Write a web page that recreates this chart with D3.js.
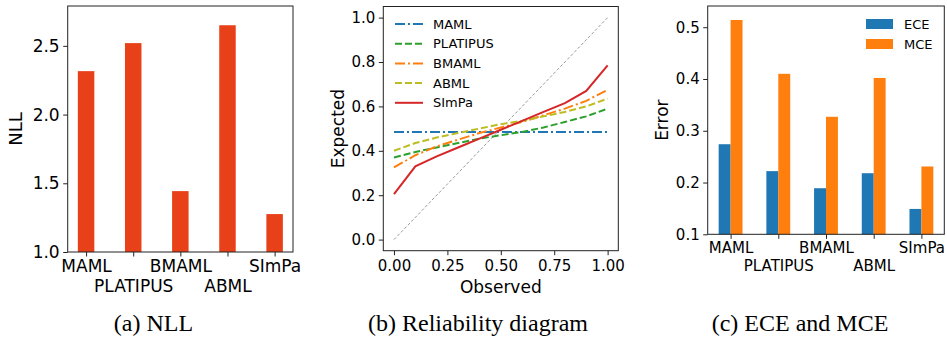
<!DOCTYPE html>
<html>
<head>
<meta charset="utf-8">
<script src="https://cdnjs.cloudflare.com/ajax/libs/d3/7.8.5/d3.min.js"></script>
<style>
  body { margin: 0; background: #fff; }
  svg text { font-family: "DejaVu Sans", sans-serif; fill: #000; }
  svg text.caption { font-family: "Liberation Serif", "Times New Roman", serif; }
</style>
</head>
<body>
<svg id="fig" width="947" height="350"></svg>
<script>
  // data
  var methods = ['MAML', 'PLATIPUS', 'BMAML', 'ABML', 'SImPa'];
  var nllValues = [2.316, 2.52, 1.443, 2.65, 1.276];
  var eceValues = [0.274, 0.222, 0.189, 0.218, 0.149];
  var mceValues = [0.514, 0.410, 0.327, 0.402, 0.231];

  var observed = [0.0, 0.1, 0.2, 0.3, 0.4, 0.5, 0.6, 0.7, 0.8, 0.9, 1.0];
  var expMAML = [0.485, 0.485, 0.485, 0.485, 0.485, 0.485, 0.485, 0.485, 0.485, 0.485, 0.485];
  var expPLATIPUS = [0.37, 0.395, 0.415, 0.435, 0.455, 0.47, 0.485, 0.505, 0.53, 0.555, 0.59];
  var expBMAML = [0.325, 0.38, 0.42, 0.45, 0.48, 0.505, 0.53, 0.56, 0.59, 0.625, 0.675];
  var expABML = [0.40, 0.435, 0.46, 0.48, 0.50, 0.52, 0.535, 0.555, 0.575, 0.60, 0.635];
  var expSImPa = [0.205, 0.33, 0.375, 0.415, 0.455, 0.495, 0.535, 0.575, 0.615, 0.67, 0.785];

  var nllTicks = [1.0, 1.5, 2.0, 2.5];
  var relXTicks = [0, 0.25, 0.5, 0.75, 1.0];
  var relYTicks = [0, 0.2, 0.4, 0.6, 0.8, 1.0];
  var errTicks = [0.1, 0.2, 0.3, 0.4, 0.5];
  var captions = ['(a) NLL', '(b) Reliability diagram', '(c) ECE and MCE'];

  var svg = d3.select('#fig');

  // frame around a plot area, matplotlib style
  function frame(g, w, h) {
    g.append('rect')
        .attr('x', 0).attr('y', 0)
        .attr('width', w).attr('height', h)
        .attr('fill', 'none')
        .attr('stroke', '#222')
        .attr('stroke-width', 1);
  }

  function styleAxis(sel, fontSize) {
    sel.select('.domain').remove();
    sel.selectAll('.tick line').attr('stroke', '#222');
    sel.selectAll('.tick text').style('font-size', fontSize + 'px').attr('fill', '#000');
  }

  // method names on two staggered rows
  function staggered(sel, fontSize) {
    sel.selectAll('.tick text')
        .attr('y', 8)
        .attr('dy', function (d, i) { return i % 2 ? (0.71 + 1.2) + 'em' : '0.71em'; });
  }

  // ---------- (a) NLL ----------
  (function () {
    var m = {left: 67.7, top: 6}, w = 225.3, h = 246;
    var g = svg.append('g').attr('transform', 'translate(' + m.left + ',' + m.top + ')');

    var x = d3.scaleLinear().domain([-0.39, 4.39]).range([0, w]);
    var y = d3.scaleLinear().domain([1.0, 2.79]).range([h, 0]);
    var bw = 0.35;

    g.selectAll('rect.bar')
        .data(nllValues)
        .enter().append('rect')
        .attr('class', 'bar')
        .attr('x', function (d, i) { return x(i - bw / 2); })
        .attr('width', x(bw) - x(0))
        .attr('y', function (d) { return y(d); })
        .attr('height', function (d) { return y(1.0) - y(d); })
        .attr('fill', '#e8411a');

    var ax = g.append('g')
        .attr('transform', 'translate(0,' + h + ')')
        .call(d3.axisBottom(x).tickValues(d3.range(methods.length))
          .tickFormat(function (d) { return methods[d]; }).tickSize(4.5));
    styleAxis(ax, 17);
    staggered(ax, 17);

    var ay = g.append('g')
        .call(d3.axisLeft(y).tickValues(nllTicks).tickFormat(d3.format('.1f')).tickSize(4.5).tickPadding(3.5));
    styleAxis(ay, 17);

    frame(g, w, h);

    g.append('text')
        .attr('transform', 'translate(' + (16 - m.left) + ',' + (h / 2) + ') rotate(-90)')
        .attr('dy', '0.36em')
        .style('text-anchor', 'middle')
        .style('font-size', '18px')
        .text('NLL');
  })();

  // ---------- (b) Reliability diagram ----------
  (function () {
    var m = {left: 383.3, top: 6.5}, w = 235, h = 244.2;
    var g = svg.append('g').attr('transform', 'translate(' + m.left + ',' + m.top + ')');

    var x = d3.scaleLinear().domain([-0.05, 1.05]).range([0, w]);
    var y = d3.scaleLinear().domain([-0.05, 1.05]).range([h, 0]);

    var series = [
      {name: 'MAML', values: expMAML, color: '#1f77b4', dash: '10,3,2,3'},
      {name: 'PLATIPUS', values: expPLATIPUS, color: '#2ca02c', dash: '7,3'},
      {name: 'BMAML', values: expBMAML, color: '#ff7f0e', dash: '10,3,2,3'},
      {name: 'ABML', values: expABML, color: '#bcbd22', dash: '7,3'},
      {name: 'SImPa', values: expSImPa, color: '#d62728', dash: null}
    ];

    var line = d3.line()
        .x(function (d) { return x(d[0]); })
        .y(function (d) { return y(d[1]); });

    // perfect calibration
    g.append('path')
        .datum([[0, 0], [1, 1]])
        .attr('d', line)
        .attr('fill', 'none')
        .attr('stroke', '#808080')
        .attr('stroke-width', 0.8)
        .attr('stroke-dasharray', '3,2');

    series.forEach(function (s) {
      g.append('path')
          .datum(observed.map(function (o, i) { return [o, s.values[i]]; }))
          .attr('d', line)
          .attr('fill', 'none')
          .attr('stroke', s.color)
          .attr('stroke-width', 2)
          .attr('stroke-dasharray', s.dash);
    });

    var ax = g.append('g')
        .attr('transform', 'translate(0,' + h + ')')
        .call(d3.axisBottom(x).tickValues(relXTicks).tickFormat(d3.format('.2f')).tickSize(4.5).tickPadding(5));
    styleAxis(ax, 15);

    var ay = g.append('g')
        .call(d3.axisLeft(y).tickValues(relYTicks).tickFormat(d3.format('.1f')).tickSize(4.5).tickPadding(3.5));
    styleAxis(ay, 15);

    frame(g, w, h);

    g.append('text')
        .attr('x', w / 2)
        .attr('y', 293 - m.top)
        .style('text-anchor', 'middle')
        .style('font-size', '17px')
        .text('Observed');

    g.append('text')
        .attr('transform', 'translate(' + (338.3 - m.left) + ',' + (h / 2) + ') rotate(-90)')
        .attr('dy', '0.36em')
        .style('text-anchor', 'middle')
        .style('font-size', '17px')
        .text('Expected');

    // legend
    var lg = g.append('g').attr('transform', 'translate(' + (395 - m.left) + ',' + (24 - m.top) + ')');
    series.forEach(function (s, i) {
      var row = lg.append('g').attr('transform', 'translate(0,' + (i * 19.7) + ')');
      row.append('line')
          .attr('x1', 0).attr('x2', 28)
          .attr('stroke', s.color)
          .attr('stroke-width', 2)
          .attr('stroke-dasharray', s.dash);
      row.append('text')
          .attr('x', 38)
          .attr('dy', '0.36em')
          .style('font-size', '13px')
          .text(s.name);
    });
  })();

  // ---------- (c) ECE and MCE ----------
  (function () {
    var m = {left: 707.7, top: 6}, w = 236.6, h = 228.3;
    var g = svg.append('g').attr('transform', 'translate(' + m.left + ',' + m.top + ')');

    var x = d3.scaleLinear().domain([-0.48, 4.48]).range([0, w]);
    var y = d3.scaleLinear().domain([0.1, 0.541]).range([h, 0]);
    var bw = 0.25;

    var groups = [
      {name: 'ECE', values: eceValues, color: '#1f77b4', off: -bw},
      {name: 'MCE', values: mceValues, color: '#ff7f0e', off: 0}
    ];

    groups.forEach(function (s) {
      g.selectAll('rect.' + s.name)
          .data(s.values)
          .enter().append('rect')
          .attr('class', s.name)
          .attr('x', function (d, i) { return x(i + s.off); })
          .attr('width', x(bw) - x(0))
          .attr('y', function (d) { return y(d); })
          .attr('height', function (d) { return y(0.1) - y(d); })
          .attr('fill', s.color);
    });

    var ax = g.append('g')
        .attr('transform', 'translate(0,' + h + ')')
        .call(d3.axisBottom(x).tickValues(d3.range(methods.length))
          .tickFormat(function (d) { return methods[d]; }).tickSize(4.5));
    styleAxis(ax, 15);
    staggered(ax, 15);

    var ay = g.append('g')
        .call(d3.axisLeft(y).tickValues(errTicks).tickFormat(d3.format('.1f')).tickSize(4.5).tickPadding(3.5));
    styleAxis(ay, 15);

    frame(g, w, h);

    g.append('text')
        .attr('transform', 'translate(' + (661.7 - m.left) + ',' + (h / 2) + ') rotate(-90)')
        .attr('dy', '0.36em')
        .style('text-anchor', 'middle')
        .style('font-size', '17px')
        .text('Error');

    var lg = g.append('g').attr('transform', 'translate(' + (866 - m.left) + ',' + (24 - m.top) + ')');
    groups.forEach(function (s, i) {
      lg.append('rect')
          .attr('x', 0).attr('y', i * 20 - 5)
          .attr('width', 27).attr('height', 10)
          .attr('fill', s.color);
      lg.append('text')
          .attr('x', 38).attr('y', i * 20)
          .attr('dy', '0.36em')
          .style('font-size', '13px')
          .text(s.name);
    });
  })();

  // captions under each panel
  var capX = [153.5, 478, 800];
  svg.selectAll('text.caption')
      .data(captions)
      .enter().append('text')
      .attr('class', 'caption')
      .attr('x', function (d, i) { return capX[i]; })
      .attr('y', 331)
      .style('text-anchor', 'middle')
      .style('font-size', '24px')
      .text(function (d) { return d; });
</script>
</body>
</html>
